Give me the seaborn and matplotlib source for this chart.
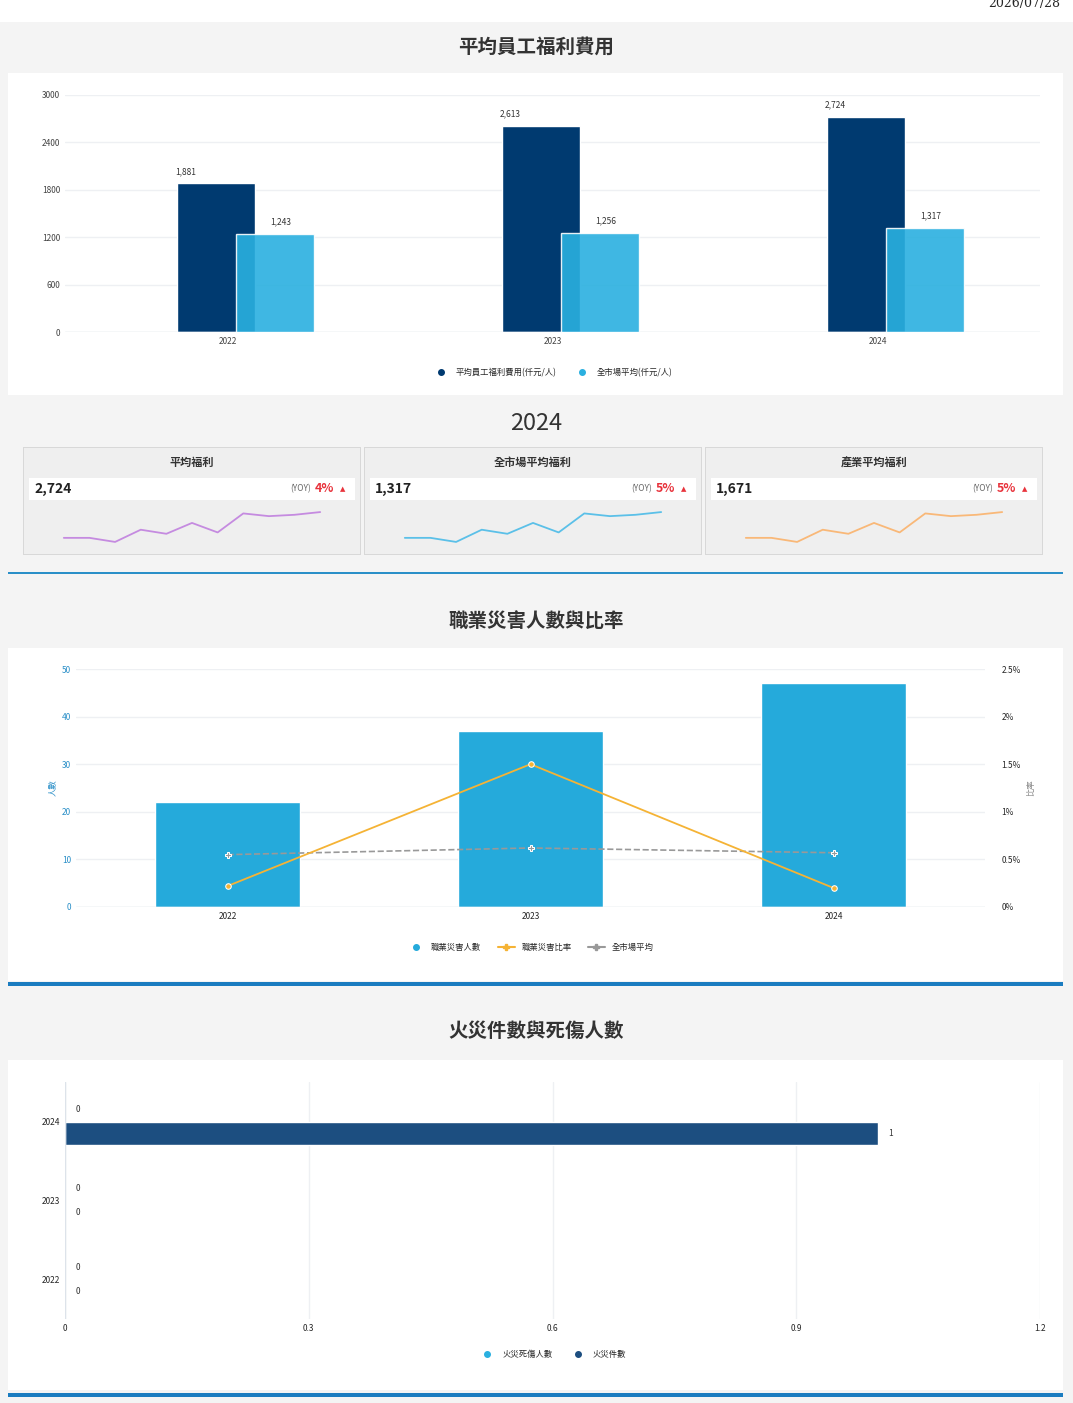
import matplotlib
matplotlib.use("Agg")
import matplotlib.pyplot as plt
import seaborn as sns
import pandas as pd
import numpy as np
from matplotlib.patches import Rectangle
from matplotlib.lines import Line2D

sns.set_theme(style="white")
plt.rcParams['font.family'] = ['Noto Sans CJK TC', 'DejaVu Sans']

W, H = 1073, 1403
years = ["2022", "2023", "2024"]
welfare = [1881, 2613, 2724]
market = [1243, 1256, 1317]
welfare_labels = ["1,881", "2,613", "2,724"]
market_labels = ["1,243", "1,256", "1,317"]

injury_count = [22, 37, 47]
injury_rate = [0.22, 1.50, 0.20]
market_rate = [0.55, 0.62, 0.57]

fire_years = ["2024", "2023", "2022"]
fire_casualty = [0, 0, 0]
fire_count = [1, 0, 0]

kpi_titles = ["平均福利", "全市場平均福利", "產業平均福利"]
kpi_values = ["2,724", "1,317", "1,671"]
kpi_yoy = ["4%", "5%", "5%"]
kpi_colors = ["#c58be0", "#5bc0e8", "#f9b878"]
spark = [4, 4, 1, 10, 7, 15, 8, 22, 20, 21, 23]

fig = plt.figure(figsize=(W/100, H/100), dpi=100)
fig.patch.set_facecolor("white")

def rect(x, y, w, h):
    return [x/W, 1-(y+h)/H, w/W, h/H]

def box(x, y, w, h, color, z=-10):
    fig.patches.append(Rectangle((x/W, 1-(y+h)/H), w/W, h/H, transform=fig.transFigure,
                                 facecolor=color, edgecolor="none", zorder=z))

def ftext(x, y, s, **kw):
    fig.text(x/W, 1-y/H, s, **kw)

box(0, 22, W, H-22, "#f4f4f4", -20)
ftext(1060, 4, "2026/07/28", ha="right", va="center", fontsize=9, family=["DejaVu Serif"])

# Section 1
ftext(536, 47, "平均員工福利費用", ha="center", va="center", fontsize=14, fontweight="bold", color="#333")
box(8, 73, 1055, 322, "white")
ax1 = fig.add_axes(rect(65, 95, 975, 237))
ax1.set_facecolor("none")
x = np.arange(3)
bw = 0.24
ax1.bar(x - 0.034, welfare, width=bw, color="#003a70", zorder=2)
ax1.bar(x + 0.145, market, width=bw, color="#2ab0e0", alpha=0.9, zorder=3)
for i in range(3):
    ax1.text(x[i] - 0.13, welfare[i] + 120, welfare_labels[i], ha="center", fontsize=6, color="#333")
    ax1.text(x[i] + 0.165, market[i] + 120, market_labels[i], ha="center", fontsize=6, color="#333")
ax1.set_xlim(-0.5, 2.5)
ax1.set_ylim(0, 3000)
ax1.set_yticks(range(0, 3001, 600))
ax1.set_xticks(x, years)
ax1.tick_params(labelsize=6, length=0, colors="#444")
ax1.grid(axis="y", color="#eef0f3")
sns.despine(ax=ax1, left=True, bottom=True)
ax1.axhline(0, color="#dde3ea", lw=1)
ax1.legend(handles=[Line2D([], [], marker="o", ls="", color="#003a70", ms=4, label="平均員工福利費用(仟元/人)"),
                    Line2D([], [], marker="o", ls="", color="#2ab0e0", ms=4, label="全市場平均(仟元/人)")],
           loc="upper center", bbox_to_anchor=(0.5, -0.12), ncol=2, frameon=False, fontsize=6)

# KPI
ftext(536, 424, "2024", ha="center", va="center", fontsize=17, color="#333")
for i in range(3):
    cx = 23 + i*341
    box(cx, 447, 338, 108, "#d8d8d8")
    box(cx+1, 448, 336, 106, "#efefef")
    ftext(cx+169, 462, kpi_titles[i], ha="center", va="center", fontsize=8, fontweight="bold", color="#333")
    box(cx+6, 478, 326, 22, "white")
    ftext(cx+11, 489, kpi_values[i], ha="left", va="center", fontsize=10, fontweight="bold", color="#222")
    ftext(cx+288, 489, "(YOY)", ha="right", va="center", fontsize=6, color="#666")
    ftext(cx+292, 489, kpi_yoy[i], ha="left", va="center", fontsize=9, fontweight="bold", color="#e8333c")
    ftext(cx+317, 489, "▲", ha="left", va="center", fontsize=5, color="#e8333c", family=["DejaVu Sans"])
    axs = fig.add_axes(rect(cx+28, 508, 282, 38))
    axs.set_facecolor("none")
    sns.lineplot(x=list(range(len(spark))), y=spark, ax=axs, color=kpi_colors[i], lw=1.3)
    axs.set_axis_off()
    axs.set_ylim(-2, 26)
box(8, 572, 1055, 2, "#2a8fc8")

# Section 2
ftext(536, 621, "職業災害人數與比率", ha="center", va="center", fontsize=14, fontweight="bold", color="#333")
box(8, 648, 1055, 333, "white")
ax2 = fig.add_axes(rect(76, 669, 909, 238))
ax2.set_facecolor("none")
df2 = pd.DataFrame({"year": years, "count": injury_count})
sns.barplot(data=df2, x="year", y="count", color="#25aadb", width=0.48, saturation=1, ax=ax2, zorder=2)
ax2.set_ylim(0, 50)
ax2.set_yticks(range(0, 51, 10))
ax2.grid(axis="y", color="#eef0f3")
ax2.set_axisbelow(True)
ax2.set_xlabel("")
ax2.set_ylabel("人數", fontsize=6, color="#2a8fc8")
ax2.tick_params(labelsize=6, length=0)
ax2.tick_params(axis="y", colors="#2a8fc8")
sns.despine(ax=ax2, left=True, bottom=True)
ax2.axhline(0, color="#dde3ea", lw=1)
ax2r = ax2.twinx()
sns.lineplot(x=[0, 1, 2], y=market_rate, ax=ax2r, color="#999999", ls="--", lw=1.2, marker="P", ms=5)
sns.lineplot(x=[0, 1, 2], y=injury_rate, ax=ax2r, color="#f5b335", lw=1.3, marker="o", ms=4)
ax2r.set_ylim(0, 2.5)
ax2r.set_yticks(np.arange(0, 2.51, 0.5), ["0%", "0.5%", "1%", "1.5%", "2%", "2.5%"])
ax2r.set_ylabel("比率", fontsize=6, color="#888")
ax2r.tick_params(labelsize=6, length=0, pad=12)
sns.despine(ax=ax2r, left=True, right=True, bottom=True)
ax2r.set_xlim(-0.5, 2.5)
ax2.legend(handles=[Line2D([], [], marker="o", ls="", color="#25aadb", ms=4, label="職業災害人數"),
                    Line2D([], [], marker="P", color="#f5b335", ms=4, label="職業災害比率"),
                    Line2D([], [], marker="P", color="#999", ms=4, label="全市場平均")],
           loc="upper center", bbox_to_anchor=(0.5, -0.12), ncol=3, frameon=False, fontsize=6)
box(8, 982, 1055, 4, "#1a7cc0")

# Section 3
ftext(536, 1031, "火災件數與死傷人數", ha="center", va="center", fontsize=14, fontweight="bold", color="#333")
box(8, 1060, 1055, 330, "white")
ax3 = fig.add_axes(rect(65, 1082, 975, 237))
ax3.set_facecolor("none")
df3 = pd.DataFrame({"year": fire_years*2,
                    "val": fire_casualty + fire_count,
                    "kind": ["火災死傷人數"]*3 + ["火災件數"]*3})
sns.barplot(data=df3, y="year", x="val", hue="kind", orient="h", palette=["#2ab0e0", "#1c4e80"],
            width=0.6, saturation=1, ax=ax3, legend=False, zorder=2)
for c in ax3.containers:
    ax3.bar_label(c, fmt="%g", fontsize=6, padding=8, color="#333")
ax3.set_xlim(0, 1.2)
ax3.set_xticks([0, 0.3, 0.6, 0.9, 1.2], ["0", "0.3", "0.6", "0.9", "1.2"])
ax3.grid(axis="x", color="#eef0f3")
ax3.set_axisbelow(True)
ax3.set_xlabel("")
ax3.set_ylabel("")
ax3.tick_params(labelsize=6, length=0)
sns.despine(ax=ax3, left=True, bottom=True)
ax3.axvline(0, color="#dde3ea", lw=1)
ax3.legend(handles=[Line2D([], [], marker="o", ls="", color="#2ab0e0", ms=4, label="火災死傷人數"),
                    Line2D([], [], marker="o", ls="", color="#1c4e80", ms=4, label="火災件數")],
           loc="upper center", bbox_to_anchor=(0.5, -0.1), ncol=2, frameon=False, fontsize=6)
box(8, 1393, 1055, 4, "#1a7cc0")

fig.savefig("out.png", dpi=100, facecolor=fig.get_facecolor())
